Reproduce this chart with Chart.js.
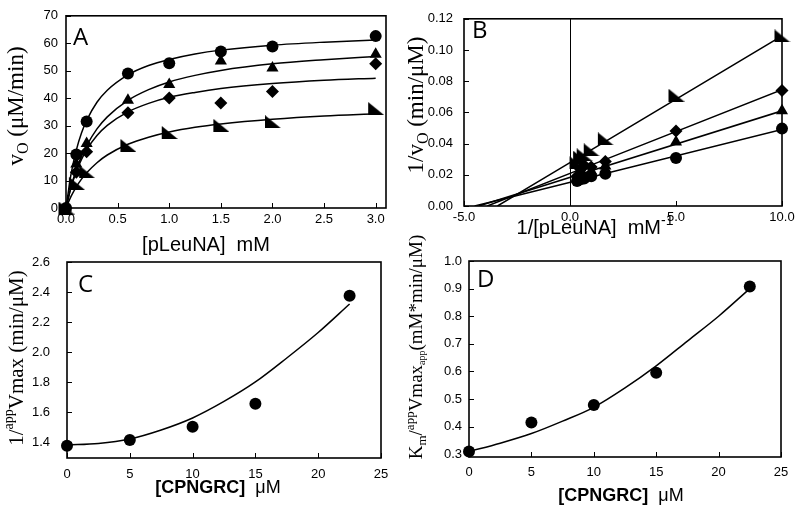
<!DOCTYPE html>
<html>
<head>
<meta charset="utf-8">
<script src="https://cdn.jsdelivr.net/npm/chart.js@4"></script>
<style>
  html, body { margin: 0; padding: 0; background: #fff; }
  #wrap { position: relative; width: 800px; height: 513px; overflow: hidden; }
  canvas { position: absolute; }
</style>
</head>
<body>
<div id="wrap">
  <canvas id="chartA" width="400" height="262" style="left:0;top:0"></canvas>
  <canvas id="chartB" width="400" height="262" style="left:400px;top:0"></canvas>
  <canvas id="chartC" width="400" height="283" style="left:0;top:230px"></canvas>
  <canvas id="chartD" width="400" height="283" style="left:400px;top:230px"></canvas>
</div>
<script>
// ---- Panel A: v0 vs [pLeuNA] ----
const aConc = [0, 0.1, 0.2, 0.6, 1.0, 1.5, 2.0, 3.0];
const aCircle = [0, 19.5, 31.5, 49, 52.7, 57, 58.8, 62.6];
const aTriangle = [0, 16, 23.5, 39.2, 45, 53.5, 51, 56];
const aDiamond = [0, 13, 20.5, 34.7, 40.1, 38.2, 42.4, 52.5];
const aWedge = [0, 9, 13.2, 22.8, 27.5, 30.1, 31.4, 36.2];
const aFitX = [0, 0.05, 0.1, 0.15, 0.2, 0.3, 0.4, 0.6, 0.8, 1.0, 1.25, 1.5, 2.0, 2.5, 3.0];
const aCircleFit = [0, 12.6, 21.1, 27.3, 31.9, 38.5, 42.9, 48.5, 51.9, 54.1, 56.1, 57.5, 59.3, 60.4, 61.2];
const aTriangleFit = [0, 7.9, 13.9, 18.8, 22.7, 28.8, 33.2, 39.2, 43.1, 45.9, 48.3, 50.1, 52.5, 54.0, 55.2];
const aDiamondFit = [0, 7.6, 13.3, 17.7, 21.2, 26.4, 30.1, 35.0, 38.1, 40.3, 42.1, 43.5, 45.3, 46.5, 47.3];
const aWedgeFit = [0, 4.3, 7.7, 10.5, 12.8, 16.5, 19.3, 23.2, 25.8, 27.7, 29.4, 30.6, 32.3, 33.5, 34.3];
const aXTicks = [0, 0.5, 1.0, 1.5, 2.0, 2.5, 3.0];
const aYTicks = [0, 10, 20, 30, 40, 50, 60, 70];

// ---- Panel B: double reciprocal ----
const bInv = [0.333, 0.5, 0.667, 1.0, 1.667, 5.0, 10.0];
const bCircle = [0.016, 0.0171, 0.0177, 0.019, 0.0206, 0.0308, 0.0496];
const bTriangle = [0.018, 0.0196, 0.0189, 0.0225, 0.0256, 0.041, 0.061];
const bDiamond = [0.019, 0.0235, 0.026, 0.025, 0.0286, 0.048, 0.074];
const bWedge = [0.0278, 0.0313, 0.0328, 0.036, 0.043, 0.071, 0.109];
const bFitStartX = [-4.5, -4.3, -3.9, -3.42];   // where each line meets y = 0
const bFitEndY = [0.049, 0.061, 0.0745, 0.109];  // value at x = 10
const bXTicks = [-5, 0, 5, 10];
const bYTicks = [0, 0.02, 0.04, 0.06, 0.08, 0.10, 0.12];

// ---- Panel C: 1/appVmax vs [CPNGRC] ----
const cdConc = [0, 5, 10, 15, 22.5];
const cVals = [1.375, 1.413, 1.502, 1.655, 2.375];
const cdFitX = [0, 2.5, 5, 7.5, 10, 12.5, 15, 17.5, 20, 22.5];
const cFit = [1.38, 1.39, 1.42, 1.48, 1.56, 1.67, 1.80, 1.96, 2.13, 2.32];
const cdXTicks = [0, 5, 10, 15, 20, 25];
const cYTicks = [1.4, 1.6, 1.8, 2.0, 2.2, 2.4, 2.6];

// ---- Panel D: Km/appVmax vs [CPNGRC] ----
const dVals = [0.31, 0.415, 0.478, 0.595, 0.908];
const dFit = [0.31, 0.34, 0.375, 0.42, 0.47, 0.54, 0.62, 0.71, 0.80, 0.90];
const dYTicks = [0.3, 0.4, 0.5, 0.6, 0.7, 0.8, 0.9, 1.0];

Chart.defaults.font.family = "'Liberation Sans', Arial, sans-serif";
Chart.defaults.color = '#000';
Chart.defaults.animation = false;

const SERIF = "'Liberation Serif', 'Times New Roman', serif";
const SANS = "'Liberation Sans', Arial, sans-serif";

function wedgeMarker() {
    const c = document.createElement('canvas');
    c.width = 17; c.height = 13;
    const g = c.getContext('2d');
    g.fillStyle = '#000';
    g.beginPath(); g.moveTo(1, 0); g.lineTo(1, 13); g.lineTo(17, 13); g.closePath(); g.fill();
    return c;
}
const WEDGE = wedgeMarker();

const pts = (xs, ys) => xs.map((x, i) => ({ x, y: ys[i] }));

function markers(xs, ys, style, r) {
    return {
        data: pts(xs, ys), pointStyle: style, pointRadius: r, pointHoverRadius: r,
        backgroundColor: '#000', borderColor: '#000', borderWidth: 0, showLine: false, clip: false
    };
}

function curve(xs, ys) {
    return {
        data: pts(xs, ys), showLine: true, pointRadius: 0, borderColor: '#000', borderWidth: 1.5,
        cubicInterpolationMode: 'monotone', fill: false
    };
}

function axis(min, max, ticks, fmt, pad, size) {
    return {
        type: 'linear', min, max,
        grid: { display: false, drawTicks: false }, border: { display: false },
        afterBuildTicks: s => { s.ticks = ticks.map(v => ({ value: v })); },
        afterFit: s => { if (s.isHorizontal()) s.height = size; else s.width = size; },
        ticks: { padding: pad, autoSkip: false, maxRotation: 0, callback: fmt, font: { size: 13 } }
    };
}

function drawRich(ctx, parts, size, family, cx, cy, angle) {
    const fontFor = p => (p.bold ? 'bold ' : '') + Math.round(p.sub || p.sup ? size * (p.small || 0.68) : size) + 'px ' + (p.family || family);
    const widths = parts.map(p => { ctx.font = fontFor(p); return ctx.measureText(p.t).width; });
    const total = widths.reduce((a, b) => a + b, 0);
    ctx.save();
    ctx.translate(cx, cy);
    ctx.rotate(angle);
    ctx.textBaseline = 'middle';
    ctx.textAlign = 'left';
    ctx.fillStyle = '#000';
    let x = -total / 2;
    parts.forEach((p, i) => {
        ctx.font = fontFor(p);
        const dy = p.sub ? size * 0.3 : p.sup ? -size * 0.35 : 0;
        ctx.fillText(p.t, x, dy);
        x += widths[i];
    });
    ctx.restore();
}

// frame, inward ticks, panel letter and axis titles
function decor(spec) {
    return {
        id: 'decor',
        afterDraw(chart) {
            const ctx = chart.ctx, a = chart.chartArea;
            const xs = chart.scales.x, ys = chart.scales.y;
            ctx.save();
            ctx.strokeStyle = '#000';
            ctx.lineWidth = 1;
            ctx.beginPath();
            ys.ticks.forEach(t => { const p = Math.round(ys.getPixelForValue(t.value)) + 0.5; ctx.moveTo(a.left, p); ctx.lineTo(a.left + 5, p); });
            xs.ticks.forEach(t => { const p = Math.round(xs.getPixelForValue(t.value)) + 0.5; ctx.moveTo(p, a.bottom); ctx.lineTo(p, a.bottom - 5); });
            if (spec.zeroLine) {
                const p = Math.round(xs.getPixelForValue(0)) + 0.5;
                ctx.moveTo(p, a.top); ctx.lineTo(p, a.bottom);
            }
            ctx.stroke();
            ctx.lineWidth = 1.6;
            ctx.strokeRect(a.left, a.top, a.right - a.left, a.bottom - a.top);
            ctx.fillStyle = '#000';
            ctx.font = "24px 'Open Sans', sans-serif";
            ctx.textBaseline = 'alphabetic';
            ctx.textAlign = 'left';
            ctx.fillText(spec.letter, spec.letterPos[0], spec.letterPos[1]);
            drawRich(ctx, spec.xTitle, spec.xSize, SANS, spec.xPos[0], spec.xPos[1], 0);
            drawRich(ctx, spec.yTitle, spec.ySize, SERIF, spec.yPos[0], spec.yPos[1], -Math.PI / 2);
            ctx.restore();
        }
    };
}

function baseOptions(pad, xScale, yScale) {
    return {
        responsive: false, animation: false,
        layout: { padding: pad },
        plugins: { legend: { display: false }, tooltip: { enabled: false } },
        scales: { x: xScale, y: yScale }
    };
}

new Chart(document.getElementById('chartA'), {
    type: 'scatter',
    data: {
        datasets: [
            curve(aFitX, aCircleFit), curve(aFitX, aTriangleFit), curve(aFitX, aDiamondFit), curve(aFitX, aWedgeFit),
            markers(aConc, aCircle, 'circle', 6),
            markers(aConc, aTriangle, 'triangle', 7),
            markers(aConc, aDiamond, 'rectRot', 6.5),
            markers(aConc, aWedge, WEDGE, 7)
        ]
    },
    options: baseOptions({ top: 15, right: 14, left: 0, bottom: 0 },
        axis(0, 3.1, aXTicks, v => v.toFixed(1), 4, 54),
        axis(0, 70, aYTicks, v => String(v), 8, 66)),
    plugins: [decor({
        letter: 'A', letterPos: [73, 45],
        xTitle: [{ t: '[pLeuNA]  mM' }], xSize: 20, xPos: [206, 245],
        yTitle: [{ t: 'v' }, { t: 'O', sub: true }, { t: ' (μM/min)' }], ySize: 23, yPos: [17, 106]
    })]
});

new Chart(document.getElementById('chartB'), {
    type: 'scatter',
    data: {
        datasets: [
            ...bFitStartX.map((x0, i) => curve([x0, 10], [0, bFitEndY[i]])),
            markers(bInv, bCircle, 'circle', 6),
            markers(bInv, bTriangle, 'triangle', 7),
            markers(bInv, bDiamond, 'rectRot', 6.5),
            markers(bInv, bWedge, WEDGE, 7)
        ]
    },
    options: baseOptions({ top: 15, right: 18, left: 0, bottom: 0 },
        axis(-5, 10, bXTicks, v => v.toFixed(1), 4, 56),
        axis(0, 0.12, bYTicks, v => v.toFixed(2), 11, 64)),
    plugins: [decor({
        letter: 'B', letterPos: [72, 38], zeroLine: true,
        xTitle: [{ t: '1/[pLeuNA]  mM' }, { t: '-1', sup: true }], xSize: 20, xPos: [195, 228],
        yTitle: [{ t: '1/v' }, { t: 'O', sub: true }, { t: ' (min/μM)' }], ySize: 23, yPos: [16.5, 105]
    })]
});

new Chart(document.getElementById('chartC'), {
    type: 'scatter',
    data: {
        datasets: [curve(cdFitX, cFit), markers(cdConc, cVals, 'circle', 6)]
    },
    options: baseOptions({ top: 32, right: 19, left: 0, bottom: 0 },
        axis(0, 25, cdXTicks, v => String(v), 9, 55),
        axis(1.293, 2.6, cYTicks, v => v.toFixed(1), 17, 67)),
    plugins: [decor({
        letter: 'C', letterPos: [78, 62],
        xTitle: [{ t: '[CPNGRC]  ', bold: true }, { t: 'μM' }], xSize: 18, xPos: [218, 258],
        yTitle: [{ t: '1/' }, { t: 'app', sup: true }, { t: 'Vmax (min/μM)' }], ySize: 21, yPos: [17, 128]
    })]
});

new Chart(document.getElementById('chartD'), {
    type: 'scatter',
    data: {
        datasets: [curve(cdFitX, dFit), markers(cdConc, dVals, 'circle', 6)]
    },
    options: baseOptions({ top: 31, right: 19, left: 0, bottom: 0 },
        axis(0, 25, cdXTicks, v => String(v), 8, 56),
        axis(0.29, 1.0, dYTicks, v => v.toFixed(1), 7, 69)),
    plugins: [decor({
        letter: 'D', letterPos: [77, 57],
        xTitle: [{ t: '[CPNGRC]  ', bold: true }, { t: 'μM' }], xSize: 18, xPos: [221, 266],
        yTitle: [{ t: 'K' }, { t: 'm', sub: true }, { t: '/' }, { t: 'app', sup: true }, { t: 'Vmax' },
                 { t: 'app', sub: true, small: 0.5 }, { t: '(mM*min/μM)' }], ySize: 19, yPos: [17, 117]
    })]
});
</script>
</body>
</html>
